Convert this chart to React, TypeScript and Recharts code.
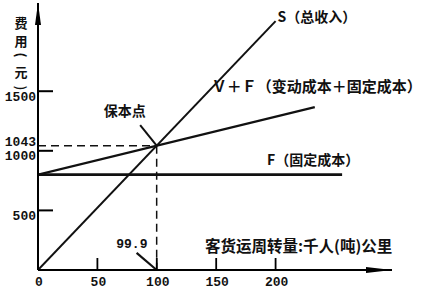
import React from 'react';
import { LineChart, Line, XAxis, YAxis, ReferenceLine, ReferenceDot } from 'recharts';

// 客货运周转量（千人(吨)公里）/ 费用（元）
const volumeTicks = [0, 50, 100, 150, 200];
const costTicks = [500, 1000, 1043, 1500];
const costTickMarks = [500, 1000, 1500];
const volumeDomain = [0, 298];
const costDomain = [0, 2240];

const revenueS = [{ q: 0, cost: 0 }, { q: 200, cost: 2088 }];
const totalCostVF = [{ q: 0, cost: 800 }, { q: 233, cost: 1366 }];
const fixedCostF = [{ q: 0, cost: 800 }, { q: 256, cost: 800 }];

const breakEven = { q: 99.9, cost: 1043 };
const breakEvenNote = { q: 73, cost: 1342 };
const breakEvenPointer = { q: 86, cost: 1216 };
const volumeNote = { q: 79, cost: 210 };
const volumePointer = { q: 83, cost: 143 };

const cjk = '"Noto Sans CJK SC", sans-serif';
const digits = '"Liberation Mono", monospace';

const CostTick = (props: any) => {
  const { x, y, payload } = props;
  const isBreakEven = payload.value === breakEven.cost;
  return (
    <text x={x - 2} y={isBreakEven ? y - 3 : y + 6} textAnchor="end" dominantBaseline="central"
      fontFamily={digits} fontSize={13} fontWeight={700} fill="#111">
      {payload.value}
    </text>
  );
};

const VolumeTick = (props: any) => {
  const { x, y, payload } = props;
  return (
    <g>
      {payload.value !== 0 && <line x1={x} x2={x} y1={y - 12} y2={y} stroke="#000" strokeWidth={1.8} />}
      <text x={x + 1} y={y + 12} textAnchor="middle" dominantBaseline="central"
        fontFamily={digits} fontSize={13} fontWeight={700} fill="#111">
        {payload.value}
      </text>
    </g>
  );
};

const note = (text: string, dx: number, dy: number, size = 14, anchor: 'start' | 'middle' | 'end' = 'start', font = cjk) =>
  (p: any) => (
    <text x={p.cx + dx} y={p.cy + dy} textAnchor={anchor} dominantBaseline="central"
      fontFamily={font} fontSize={size} fontWeight={700} fill="#111">
      {text}
    </text>
  );

const CostTitle = (props: any) => {
  const { x, y } = props.viewBox;
  const cx = x + 21;
  const at = (dy: number, ch: string, turn = false) => (
    <text x={cx} y={y + dy} textAnchor="middle" dominantBaseline="central"
      transform={turn ? `rotate(90 ${cx} ${y + dy})` : undefined}>{ch}</text>
  );
  return (
    <g fontFamily={cjk} fontSize={13} fontWeight={700} fill="#111">
      {at(19, '费')}
      {at(37, '用')}
      {at(52, '(', true)}
      {at(68, '元')}
      {at(85, ')', true)}
    </g>
  );
};

const VolumeTitle = (props: any) => {
  const { x, y } = props.viewBox;
  return (
    <text x={x + 167} y={y - 25} dominantBaseline="central" fontFamily={cjk} fontSize={15.5} fontWeight={700} fill="#111">
      客货运周转量:千人(吨)公里
    </text>
  );
};

const App: React.FC = () => {
  return (
    <div style={{ width: 421, height: 290, background: '#fff' }}>
      <style>{'body{margin:0}'}</style>
      <LineChart width={421} height={290} margin={{ top: 3, right: 29, bottom: 0, left: 0 }}>
        <XAxis type="number" dataKey="q" domain={volumeDomain} ticks={volumeTicks} allowDataOverflow interval={0}
          height={20} tickSize={0} tickMargin={0} tickLine={false} tick={<VolumeTick />}
          axisLine={{ stroke: '#000', strokeWidth: 2 }} label={(p: any) => <VolumeTitle {...p} />} />
        <YAxis type="number" dataKey="cost" domain={costDomain} ticks={costTicks} allowDataOverflow interval={0}
          width={38} tickSize={0} tickMargin={0} tickLine={false} tick={<CostTick />}
          axisLine={{ stroke: '#000', strokeWidth: 2 }} label={(p: any) => <CostTitle {...p} />} />

        {/* short inward tick marks on the cost axis */}
        {costTickMarks.map((v) => (
          <ReferenceDot key={`tick-${v}`} x={0} y={v} ifOverflow="visible"
            shape={(p: any) => <line x1={p.cx} x2={p.cx + 15} y1={p.cy} y2={p.cy} stroke="#000" strokeWidth={2} />} />
        ))}

        <ReferenceLine segment={[{ x: 0, y: breakEven.cost }, { x: breakEven.q, y: breakEven.cost }]}
          stroke="#111" strokeWidth={1.5} strokeDasharray="8 5" />
        <ReferenceLine segment={[{ x: breakEven.q, y: breakEven.cost }, { x: breakEven.q, y: 0 }]}
          stroke="#111" strokeWidth={1.5} strokeDasharray="8 5" />
        <ReferenceLine segment={[{ x: breakEvenPointer.q, y: breakEvenPointer.cost }, { x: breakEven.q, y: breakEven.cost }]}
          stroke="#111" strokeWidth={2} />
        <ReferenceLine segment={[{ x: volumePointer.q, y: volumePointer.cost }, { x: breakEven.q, y: 0 }]}
          stroke="#111" strokeWidth={2.2} />

        <Line data={fixedCostF} dataKey="cost" stroke="#111" strokeWidth={2.6} dot={false} isAnimationActive={false} />
        <Line data={totalCostVF} dataKey="cost" stroke="#111" strokeWidth={2.2} dot={false} isAnimationActive={false} />
        <Line data={revenueS} dataKey="cost" stroke="#111" strokeWidth={2} dot={false} isAnimationActive={false} />

        <ReferenceDot x={revenueS[1].q} y={revenueS[1].cost} ifOverflow="visible" shape={note('S（总收入）', 2, -5)} />
        <ReferenceDot x={totalCostVF[1].q} y={totalCostVF[1].cost} ifOverflow="visible" shape={note('Ｖ＋Ｆ（变动成本＋固定成本）', -103, -22, 15)} />
        <ReferenceDot x={fixedCostF[1].q} y={fixedCostF[1].cost} ifOverflow="visible" shape={note('F（固定成本）', -75, -16)} />
        <ReferenceDot x={breakEvenNote.q} y={breakEvenNote.cost} ifOverflow="visible" shape={note('保本点', 0, 0, 14, 'middle')} />
        <ReferenceDot x={volumeNote.q} y={volumeNote.cost} ifOverflow="visible" shape={note('99.9', 0, 0, 13, 'middle', digits)} />

        <ReferenceDot x={volumeDomain[1]} y={0} ifOverflow="visible"
          shape={(p: any) => <polygon points={`${p.cx},${p.cy} ${p.cx - 26},${p.cy - 3} ${p.cx - 26},${p.cy + 3}`} fill="#000" />} />
        <ReferenceDot x={0} y={costDomain[1]} ifOverflow="visible"
          shape={(p: any) => <polygon points={`${p.cx},${p.cy} ${p.cx - 3},${p.cy + 22} ${p.cx + 3},${p.cy + 22}`} fill="#000" />} />
      </LineChart>
    </div>
  );
};

export default App;
